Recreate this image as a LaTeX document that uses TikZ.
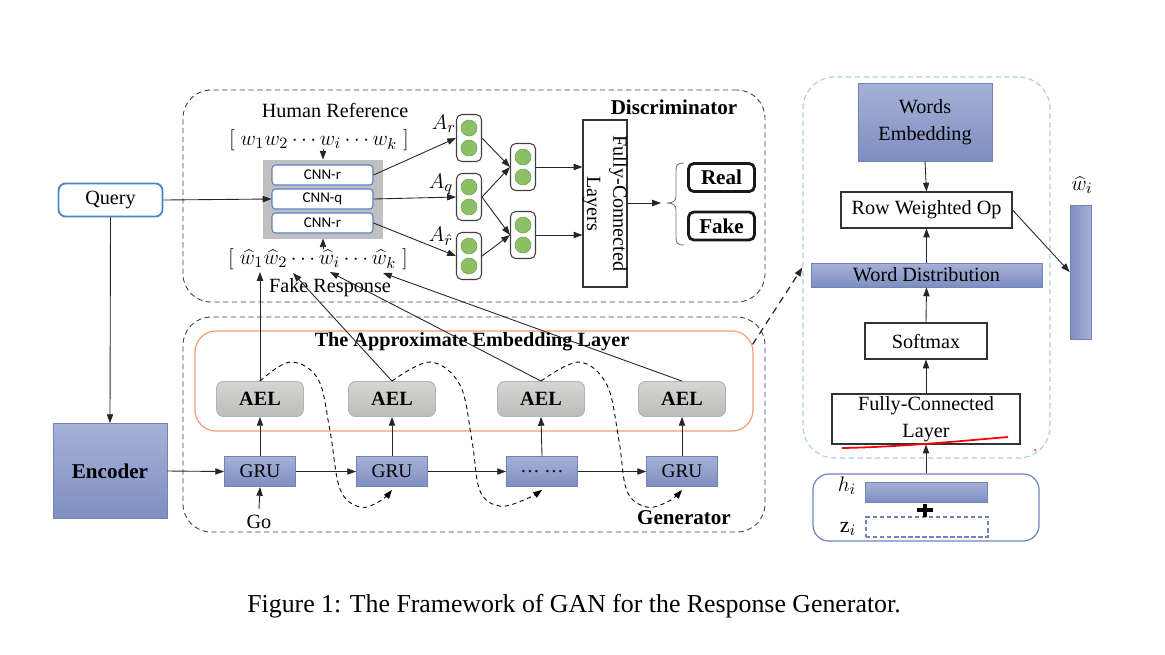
\documentclass[tikz,border=0pt]{standalone}
\usepackage{fontspec}
\setmainfont{Liberation Serif}
\newfontfamily\carlito{Carlito}
\usetikzlibrary{arrows.meta,calc}
\newlength\pu
\setlength\pu{0.02cm}
\newcommand\fsz[2]{\fontsize{#1}{#2}\selectfont}
\definecolor{bluetop}{RGB}{166,177,214}
\definecolor{bluebot}{RGB}{126,142,192}
\definecolor{blueedge}{RGB}{112,132,188}
\definecolor{aeltop}{RGB}{214,214,212}
\definecolor{aelbot}{RGB}{188,188,186}
\definecolor{aeledge}{RGB}{178,178,178}
\definecolor{cnngrey}{RGB}{192,192,192}
\definecolor{cnnedge}{RGB}{84,130,196}
\definecolor{greenc}{RGB}{140,192,102}
\definecolor{greene}{RGB}{112,162,80}
\definecolor{orangee}{RGB}{240,160,118}
\definecolor{lightblue}{RGB}{172,206,232}
\definecolor{queryedge}{RGB}{72,132,196}
\begin{document}
\begin{tikzpicture}[x=0.02cm,y=-0.02cm,
  every node/.style={font=\fsz{11.5}{13}},
  ar/.style={-{Triangle[length=5pt,width=3.6pt]}, line width=0.5pt, draw=black!85},
  dashbox/.style={draw=black!75, dashed, dash pattern=on 3pt off 2pt, rounded corners=16pt, line width=0.5pt},
  bluebox/.style={draw=blueedge, top color=bluetop, bottom color=bluebot, line width=0.5pt, inner sep=0pt},
  aelbox/.style={draw=aeledge, top color=aeltop, bottom color=aelbot, rounded corners=4pt, line width=0.5pt, minimum width=87\pu, minimum height=35\pu, font=\bfseries\fsz{11.5}{13}},
  grubox/.style={bluebox, minimum width=71\pu, minimum height=30\pu, font=\fsz{11}{13}},
  cnnbox/.style={draw=cnnedge, fill=white, rounded corners=2pt, line width=0.6pt, minimum width=101\pu, minimum height=20\pu, inner sep=0pt, font=\carlito\fsz{8.5}{10}},
  pairbox/.style={draw=black!75, fill=white, rounded corners=3pt, line width=0.6pt, minimum width=25\pu, minimum height=47\pu},
  wbox/.style={draw=black!80, fill=white, line width=0.6pt, inner sep=0pt},
  rfbox/.style={draw=black!90, line width=1.6pt, rounded corners=3pt, minimum width=66\pu, minimum height=28\pu, font=\bfseries\fsz{12}{14}},
  dball/.style={fill=greenc, draw=greene, line width=0.3pt},
  mathlab/.style={font=\fsz{12.5}{14}, inner sep=1pt},
  curv/.style={dashed, dash pattern=on 2.5pt off 2pt, line width=0.5pt, -{Triangle[length=5pt,width=3.6pt]}}
]
\useasboundingbox (0,0) rectangle (1165,654);

% containers
\node[dashbox, minimum width=582\pu, minimum height=212\pu] (disc) at (474,196) {};
\node[dashbox, minimum width=582\pu, minimum height=215\pu] (gen) at (474,424.5) {};
\node[draw=orangee, rounded corners=12pt, line width=0.7pt, minimum width=558\pu, minimum height=100\pu] (orng) at (474,381) {};
\node[draw=lightblue, dashed, dash pattern=on 3pt off 2pt, rounded corners=18pt, line width=0.7pt, minimum width=247\pu, minimum height=381\pu] (rbox) at (926.5,267.5) {};
\node[draw=blueedge, rounded corners=9pt, line width=0.7pt, minimum width=226\pu, minimum height=67\pu] (bbox) at (926,507.5) {};

% left
\node[draw=queryedge, fill=white, rounded corners=4pt, line width=1pt, minimum width=104\pu, minimum height=33\pu, font=\fsz{11.5}{13}] (query) at (110.5,200) {Query};
\node[bluebox, minimum width=114\pu, minimum height=95\pu, font=\bfseries\fsz{12}{14}] (enc) at (110,471) {Encoder};

% discriminator
\node (humref) at (335,110) {Human Reference};
\node[mathlab] (wline) at (319,140) {$[\;w_1w_2\cdots w_i\cdots w_k\;]$};
\coordinate (wi) at (323,149);
\node[fill=cnngrey, draw=black!25, minimum width=119\pu, minimum height=78\pu, inner sep=0pt] (grey) at (322.5,199) {};
\node[cnnbox] (cnn1) at (322.5,175) {CNN-r};
\node[cnnbox] (cnn2) at (322.5,199) {CNN-q};
\node[cnnbox] (cnn3) at (322.5,223) {CNN-r};
\node[mathlab] (hline) at (318,259) {$[\;\widehat{w}_1\widehat{w}_2\cdots \widehat{w}_i\cdots \widehat{w}_k\;]$};
\coordinate (hwi) at (323,249);
\coordinate (tw1) at (260,272);
\coordinate (tw2) at (293,273);
\coordinate (twi) at (330,272);
\coordinate (twk) at (383,273);
\node[inner sep=1pt] (fake) at (330,288) {Fake Response};

\draw[ar] (wi) -- (wi |- grey.north);
\draw[ar] (hwi) -- (hwi |- grey.south);
\draw[ar] (query.east) -- (cnn2.west);

\node[pairbox] (g1) at (469,138) {};
\node[pairbox] (g2) at (469,197) {};
\node[pairbox] (g3) at (469,256) {};
\node[pairbox] (h1) at (523,167) {};
\node[pairbox] (h2) at (523,235) {};
\foreach \n in {g1,g2,g3,h1,h2}{
  \draw[dball] ($(\n)+(0,-10)$) circle[radius=8\pu];
  \draw[dball] ($(\n)+(0,10)$) circle[radius=8\pu];
}
\node[mathlab] (ar1) at (444,124) {$A_r$};
\node[mathlab] (aq1) at (441,184) {$A_q$};
\node[mathlab] (ah1) at (441,236) {$A_{\hat r}$};

\node[wbox, minimum width=44\pu, minimum height=167\pu] (fc) at (605,203.5) {};
\node[rotate=-90, align=center, font=\fsz{11.5}{15}] (fctext) at (fc.center) {Fully-Connected\\Layers};

\draw[ar] (cnn1.east) -- (g1.west);
\draw[ar] (cnn2.east) -- (g2.west);
\draw[ar] (cnn3.east) -- (g3.west);
\draw[ar] (g1.east) -- (h1.west);
\draw[ar] (g2.east) -- (h1.west);
\draw[ar] (g2.east) -- (h2.west);
\draw[ar] (g3.east) -- (h2.west);
\draw[ar] (h1.east) -- (h1 -| fc.west);
\draw[ar] (h2.east) -- (h2 -| fc.west);

\coordinate (btip) at (667,203);
\draw[ar] (fc.east |- btip) -- ($(btip)+(-6,0)$);
\draw[black!55, line width=0.5pt] (684,163) .. controls (677,163) and (676,165) .. (676,171) -- (676,196) .. controls (676,201) and (673,203) .. (btip)
  .. controls (673,203) and (676,205) .. (676,210) -- (676,237) .. controls (676,243) and (677,245) .. (684,245);

\node[rfbox] (real) at (721.5,177.5) {Real};
\node[rfbox] (fakeb) at (721.5,226) {Fake};
\node[font=\bfseries\fsz{12}{14}] (disclab) at (674,107) {Discriminator};

% generator
\node[font=\bfseries\fsz{11.5}{13}] (aellab) at (472,342) {The Approximate Embedding Layer};
\node[aelbox] (ael1) at (260,399) {AEL};
\node[aelbox] (ael2) at (392,399) {AEL};
\node[aelbox] (ael3) at (541,399) {AEL};
\node[aelbox] (ael4) at (682,399) {AEL};
\node[grubox] (gru1) at (260,471.5) {GRU};
\node[grubox] (gru2) at (392,471.5) {GRU};
\node[grubox] (gru3) at (542,471.5) {\dots\ \dots};
\node[grubox] (gru4) at (682,471.5) {GRU};
\node (go) at (259,522) {Go};
\node[font=\bfseries\fsz{12}{14}] (genlab) at (684,518) {Generator};

\draw[ar] (enc.east) -- (gru1.west);
\draw[ar] (gru1.east) -- (gru2.west);
\draw[ar] (gru2.east) -- (gru3.west);
\draw[ar] (gru3.east) -- (gru4.west);
\draw[ar] (go.north) -- (gru1.south);
\foreach \i in {1,2,3,4}{ \draw[ar] (gru\i.north) -- (ael\i.south); }
\draw[ar] (query.south) -- (enc.north);

\draw[ar] (ael1.north) -- (tw1);
\draw[ar] (ael2.north) -- (tw2);
\draw[ar] (ael3.north) -- (twi);
\draw[ar] (ael4.north) -- (twk);

\draw[curv] plot[smooth, tension=0.6] coordinates {(ael1.north) ($(ael1.north)+(30,-19)$) ($(ael1.north)+(58,-2)$) ($(ael1.north)+(70,50)$) ($(ael1.north)+(80,108)$) ($(ael1.north)+(100,126)$) ($(ael1.north)+(120,120)$) ($(gru2.south)+(0,3)$)};
\draw[curv] plot[smooth, tension=0.6] coordinates {(ael2.north) ($(ael2.north)+(38,-19)$) ($(ael2.north)+(68,4)$) ($(ael2.north)+(80,60)$) ($(ael2.north)+(88,110)$) ($(ael2.north)+(108,125)$) ($(ael2.north)+(134,118)$) ($(gru3.south)+(0,3)$)};
\draw[curv] plot[smooth, tension=0.6] coordinates {(ael3.north) ($(ael3.north)+(38,-19)$) ($(ael3.north)+(66,4)$) ($(ael3.north)+(78,60)$) ($(ael3.north)+(86,110)$) ($(ael3.north)+(106,126)$) ($(ael3.north)+(128,120)$) ($(gru4.south)+(0,3)$)};

\draw[ar, dashed, dash pattern=on 4pt off 3pt, line width=0.7pt] ($(orng.north east)+(-1,14)$) -- (rbox.west);

% right panel
\node[bluebox, minimum width=134\pu, minimum height=78\pu, align=center, font=\fsz{11.5}{15}] (we) at (925,122) {Words\\Embedding};
\node[wbox, minimum width=171\pu, minimum height=36\pu] (rwo) at (926.5,210) {Row Weighted Op};
\node[bluebox, minimum width=231\pu, minimum height=24\pu] (wd) at (926.5,275) {Word Distribution};
\node[wbox, minimum width=122\pu, minimum height=36\pu] (soft) at (926,341) {Softmax};
\node[wbox, minimum width=188\pu, minimum height=50\pu, align=center, font=\fsz{11.5}{15}] (fcl) at (926,419) {Fully-Connected\\Layer};
\draw[red, line width=1pt] (842,448) .. controls (900,447) and (960,441) .. (1008,437);
\fill[red] (1035,450) circle[radius=1\pu];
\node[bluebox, minimum width=122\pu, minimum height=20\pu] (hbar) at (926,492) {};
\node[draw=blueedge, dashed, dash pattern=on 2.5pt off 1.5pt, line width=0.6pt, minimum width=122\pu, minimum height=20\pu, inner sep=0pt] (zbox) at (927,527) {};
\node[mathlab] (hlab) at (847,486) {$h_i$};
\node[mathlab] (zlab) at (848,529) {$\mathrm{z}_i$};
\draw[line width=2.6pt] (917,510) -- (933,510);
\draw[line width=2.6pt] (925,503.5) -- (925,516.5);
\node[draw=blueedge, left color=bluebot, right color=bluetop, minimum width=21\pu, minimum height=134\pu, inner sep=0pt] (wbar) at (1080.5,272) {};
\node[mathlab] (wlab) at (1082,185) {$\widehat{w}_i$};

\draw[ar] (we.south) -- (rwo.north);
\draw[ar] (wd.north) -- (rwo.south);
\draw[ar] (soft.north) -- (wd.south);
\draw[ar] (fcl.north) -- (soft.south);
\draw[ar] (bbox.north) -- (fcl.south);
\draw[ar] (rwo.east) -- (wbar.west);

% caption
\node[font=\fsz{14.7}{17}] (cap) at (574,606) {Figure 1: The Framework of GAN for the Response Generator.};
\end{tikzpicture}
\end{document}
